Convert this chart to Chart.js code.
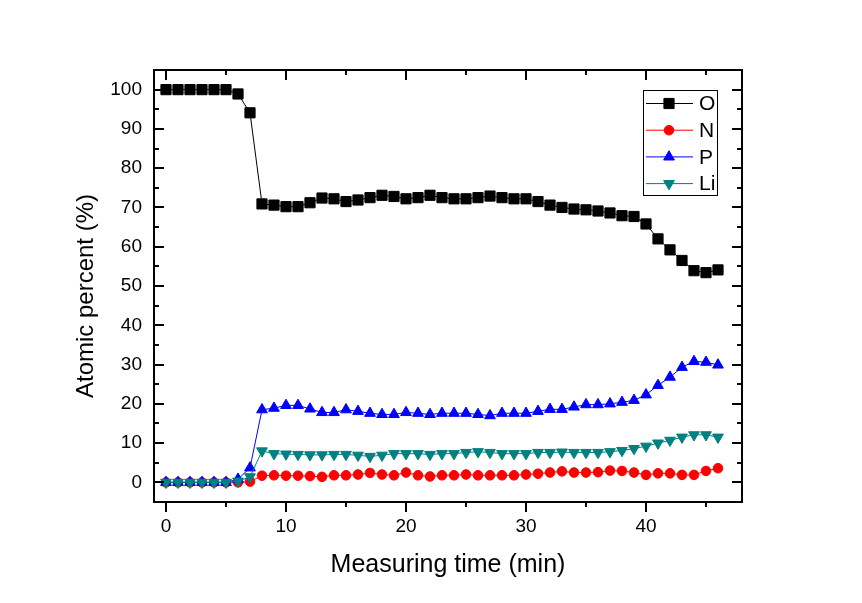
<!DOCTYPE html>
<html><head><meta charset="utf-8">
<script src="https://cdn.jsdelivr.net/npm/chart.js@4.4.1/dist/chart.umd.min.js"></script>
<style>html,body{margin:0;padding:0;background:#fff;} #wrap{width:862px;height:603px;position:relative;background:#fff}</style>
</head><body><div id="wrap"><canvas id="c" width="862" height="603"></canvas></div>
<script>
const timeMin = [0,1,2,3,4,5,6,7,8,9,10,11,12,13,14,15,16,17,18,19,20,21,22,23,24,25,26,27,28,29,30,31,32,33,34,35,36,37,38,39,40,41,42,43,44,45,46];
const oxygen = [100,100,100,100,100,100,98.9,94.1,70.9,70.6,70.2,70.2,71.2,72.4,72.2,71.5,71.9,72.5,73.1,72.8,72.2,72.5,73.1,72.5,72.2,72.2,72.5,72.9,72.5,72.2,72.2,71.5,70.6,70.0,69.6,69.4,69.1,68.6,67.9,67.7,65.8,62.0,59.2,56.5,53.9,53.4,54.1];
const nitrogen = [0,0,0,0,0,0,0,0.2,1.7,1.8,1.7,1.7,1.6,1.4,1.8,1.8,2.0,2.4,2.0,1.8,2.5,1.8,1.5,1.8,1.8,2.0,1.8,1.8,1.8,1.8,2.0,2.2,2.5,2.8,2.5,2.5,2.6,3.0,2.9,2.5,1.9,2.3,2.3,1.9,1.9,2.9,3.6];
const phosphorus = [0,0,0,0,0,0,0.8,3.7,18.5,18.9,19.6,19.6,18.7,17.8,17.8,18.5,18.1,17.6,17.3,17.3,17.8,17.6,17.3,17.6,17.6,17.6,17.3,17.0,17.6,17.6,17.6,18.1,18.6,18.6,19.2,19.8,19.8,20.0,20.4,20.9,22.3,24.7,26.8,29.3,30.8,30.6,29.9];
const lithium = [0,0,0,0,0,0,0.3,1.4,8.0,7.3,7.2,7.1,7.0,7.0,7.1,7.1,6.9,6.6,6.9,7.3,7.3,7.3,7.1,7.3,7.3,7.6,7.8,7.6,7.3,7.3,7.3,7.6,7.6,7.7,7.6,7.6,7.6,7.8,8.1,8.6,9.2,10.0,10.7,11.5,12.1,12.1,11.5];
const seriesNames = ['O','N','P','Li'];
const xTickValues = [0,10,20,30,40];
const xMinorValues = [5,15,25,35,45];
const yTickValues = [0,10,20,30,40,50,60,70,80,90,100];
const yMinorValues = [5,15,25,35,45,55,65,75,85,95];
const xTitle = 'Measuring time (min)';
const yTitle = 'Atomic percent (%)';

const FONT = "'Liberation Sans', Arial, sans-serif";
const colors = ['#000000','#ff0000','#0000ff','#008080'];
const styles = ['rect','circle','triangle','triangle'];
const rotations = [0,0,0,180];
const radii = [7.2,4.8,6.2,6.2];
const values = [oxygen, nitrogen, phosphorus, lithium];

const datasets = seriesNames.map((name,i)=>({
  label: name,
  data: timeMin.map((t,k)=>({x:t, y:values[i][k]})),
  borderColor: colors[i],
  backgroundColor: colors[i],
  borderWidth: 1,
  pointStyle: styles[i],
  pointRotation: rotations[i],
  pointRadius: radii[i],
  pointBorderWidth: 1,
  pointBorderColor: colors[i],
  pointBackgroundColor: colors[i],
  tension: 0,
  order: 3 - i,
  clip: false
}));

function marker(ctx, style, rot, r, x, y, color){
  ctx.save();
  ctx.fillStyle = color; ctx.strokeStyle = color; ctx.lineWidth = 1;
  ctx.beginPath();
  if (style === 'rect') {
    const s = Math.SQRT1_2 * r;
    ctx.rect(x - s, y - s, 2*s, 2*s);
  } else if (style === 'circle') {
    ctx.arc(x, y, r, 0, Math.PI*2);
  } else {
    let a = rot * Math.PI/180;
    for (let k=0;k<3;k++){
      const px = x + Math.sin(a)*r, py = y - Math.cos(a)*r;
      if (k===0) ctx.moveTo(px,py); else ctx.lineTo(px,py);
      a += 2*Math.PI/3;
    }
    ctx.closePath();
  }
  ctx.fill(); ctx.stroke();
  ctx.restore();
}

const framePlugin = {
  id: 'frame',
  afterDraw(chart) {
    const {ctx, chartArea: a, scales: {x, y}} = chart;
    ctx.save();
    ctx.strokeStyle = '#000';
    ctx.lineWidth = 2;
    ctx.strokeRect(a.left, a.top, a.right - a.left, a.bottom - a.top);
    ctx.beginPath();
    const xt = (vals, len) => vals.forEach(v => {
      const p = Math.round(x.getPixelForValue(v));
      ctx.moveTo(p, a.bottom); ctx.lineTo(p, a.bottom + len);
      ctx.moveTo(p, a.top); ctx.lineTo(p, a.top + len);
    });
    const yt = (vals, len) => vals.forEach(v => {
      const p = Math.round(y.getPixelForValue(v));
      ctx.moveTo(a.left, p); ctx.lineTo(a.left + len, p);
      ctx.moveTo(a.right, p); ctx.lineTo(a.right - len, p);
    });
    xt(xTickValues, 10); xt(xMinorValues, 5);
    yt(yTickValues, 10); yt(yMinorValues, 5);
    ctx.stroke();

    // y-axis title (placed like the original, slightly below the axis centre)
    ctx.save();
    ctx.translate(86, (a.top + a.bottom) / 2 + 10);
    ctx.rotate(-Math.PI / 2);
    ctx.font = "24px " + FONT;
    ctx.fillStyle = '#000';
    ctx.textAlign = 'center';
    ctx.textBaseline = 'middle';
    ctx.fillText(yTitle, 0, 0);
    ctx.restore();

    // legend
    const lx = a.right - 99, ly = a.top + 20, lw = 74, lh = 105;
    ctx.lineWidth = 1;
    ctx.strokeStyle = '#000';
    ctx.strokeRect(lx + 0.5, ly + 0.5, lw, lh);
    ctx.font = "21px " + FONT;
    ctx.textBaseline = 'middle';
    ctx.textAlign = 'left';
    chart.data.datasets.forEach((ds, i) => {
      const ey = ly + 13.5 + i * 26.7;
      ctx.strokeStyle = ds.borderColor;
      ctx.beginPath(); ctx.moveTo(lx + 3, ey); ctx.lineTo(lx + 50, ey); ctx.stroke();
      marker(ctx, ds.pointStyle, ds.pointRotation, ds.pointRadius, lx + 26, ey, ds.borderColor);
      ctx.fillStyle = '#000';
      ctx.fillText(ds.label, lx + 56, ey + 1);
    });
    ctx.restore();
  }
};

new Chart(document.getElementById('c'), {
  type: 'line',
  data: { datasets },
  plugins: [framePlugin],
  options: {
    responsive: false,
    animation: false,
    devicePixelRatio: 1,
    layout: { padding: { left: 0, right: 120, top: 70, bottom: 0 } },
    plugins: { legend: { display: false }, tooltip: { enabled: false } },
    scales: {
      x: {
        type: 'linear', min: -1, max: 48,
        afterBuildTicks: s => { s.ticks = xTickValues.map(v => ({value: v})); },
        afterFit: s => { s.height = 101; },
        ticks: { font: { family: FONT, size: 19 }, color: '#000', padding: 13, maxRotation: 0, autoSkip: false },
        grid: { display: false, drawTicks: false },
        border: { display: false },
        title: { display: true, text: xTitle, color: '#000', font: { family: FONT, size: 25 }, padding: { top: 0, bottom: 23 } }
      },
      y: {
        type: 'linear', min: -5, max: 105,
        afterBuildTicks: s => { s.ticks = yTickValues.map(v => ({value: v})); },
        afterFit: s => { s.width = 154; },
        ticks: { font: { family: FONT, size: 19 }, color: '#000', padding: 12, autoSkip: false },
        grid: { display: false, drawTicks: false },
        border: { display: false },
        title: { display: false }
      }
    }
  }
});
</script>
</body></html>
